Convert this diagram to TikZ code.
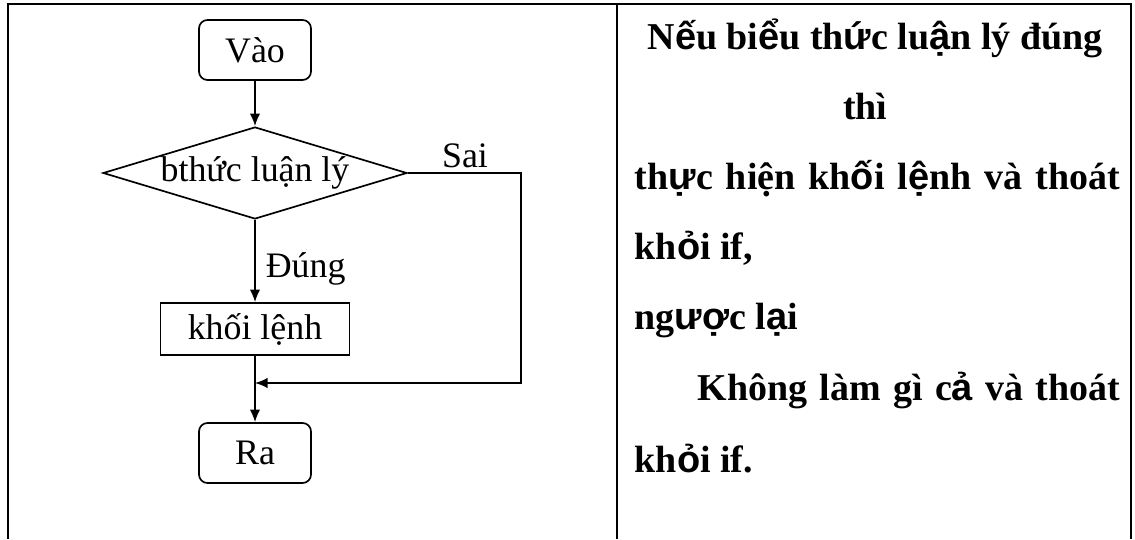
\documentclass[tikz,border=0pt]{standalone}
\usepackage{fontspec}
\setmainfont{Liberation Serif}
\newfontfamily\fbfont{Liberation Sans}
\usepackage{tikz}
\usetikzlibrary{shapes.geometric}
\usetikzlibrary{arrows.meta}
\newcommand{\fb}[1]{{\fbfont #1}}
\tikzstyle{term}=[draw,rectangle,rounded corners=6pt,minimum width=2.8cm,minimum height=1.5cm,inner sep=0pt]
\tikzstyle{cond}=[draw,diamond,aspect=3.3,minimum width=7.6cm,minimum height=2.3cm,inner sep=0pt]
\tikzstyle{blk}=[draw,rectangle,minimum width=4.72cm,minimum height=1.3cm,inner sep=0pt]
\tikzstyle{txt}=[inner sep=0pt,font=\fontsize{27}{32}\selectfont\bfseries]

\begin{document}
\begin{tikzpicture}[line width=1.2pt,>={Latex[length=9pt,width=7.5pt]},
    font=\fontsize{25.5}{30}\selectfont]
  \useasboundingbox (0,0) rectangle (28.375,13.475);
  % table
  \draw[line width=2pt] (0.2,0) -- (0.2,13.375) -- (28.275,13.375) -- (28.275,0);
  \draw[line width=2pt] (15.425,13.375) -- (15.425,0);

  % flowchart
  \node[term] (vao) at (6.375,12.225) {Vào};
  \node[cond] (cond) at (6.375,9.15) {bthức luận lý};
  \node[blk] (blk) at (6.375,5.25) {khối lệnh};
  \node[term] (ra) at (6.375,2.15) {Ra};
  \coordinate (join) at (6.375,3.9);
  \coordinate (turn) at (13.025,9.15);
  \coordinate (back) at (13.025,3.9);

  \draw[->] (vao) -- (cond);
  \draw[->] (cond) -- (blk);
  \draw (blk) -- (join);
  \draw[->] (join) -- (ra);
  \draw[->] (cond.east) -- (turn) -- (back) -- (join);

  \node[anchor=base] (sai) at (11.625,9.275) {Sai};
  \node[anchor=base west,inner sep=0pt] (dung) at (6.625,6.525) {Đúng};

  % text column
  \node[txt,anchor=base] (l1) at (21.875,12.225) {N\fb{ế}u bi\fb{ể}u th\fb{ứ}c lu\fb{ậ}n lý đúng};
  \node[txt,anchor=base] (l2) at (21.63,10.475) {thì};
  \node[txt,anchor=base west] (l3) at (15.85,8.725) {\makebox[12.125cm][s]{th\fb{ự}c hiện kh\fb{ố}i l\fb{ệ}nh và thoát}};
  \node[txt,anchor=base west] (l4) at (15.85,6.975) {kh\fb{ỏ}i if,};
  \node[txt,anchor=base west] (l5) at (15.85,5.225) {ng\fb{ượ}c l\fb{ạ}i};
  \node[txt,anchor=base west] (l6) at (17.425,3.475) {\makebox[10.55cm][s]{Không làm gì c\fb{ả} và thoát}};
  \node[txt,anchor=base west] (l7) at (15.85,1.675) {kh\fb{ỏ}i if.};
\end{tikzpicture}
\end{document}
